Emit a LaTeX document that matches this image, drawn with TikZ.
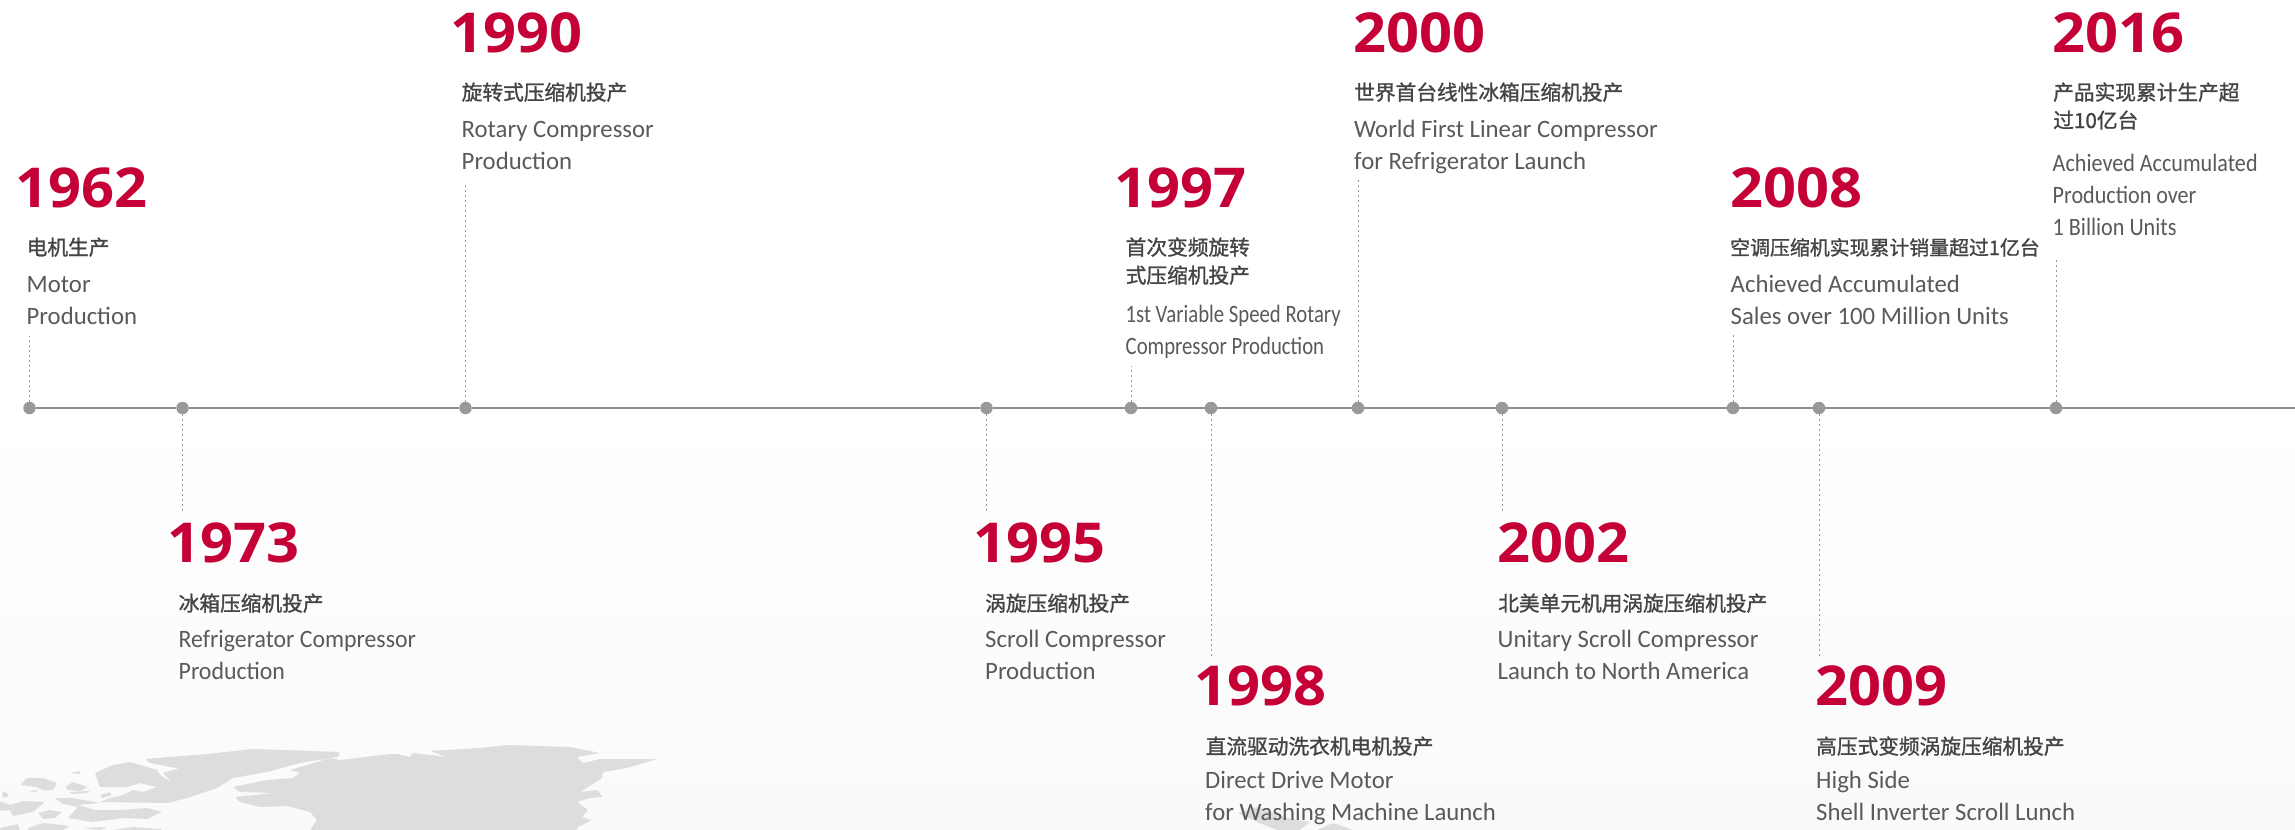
\documentclass[tikz,border=0pt]{standalone}
\usepackage{fontspec}
\setmainfont[FakeStretch=0.99]{Carlito}
\newfontfamily\yearfont[FakeStretch=1.05]{Open Sans}
\newfontfamily\cjk[FakeBold=1.2]{Noto Sans CJK SC}
\newfontfamily\condfont[FakeStretch=0.83]{Carlito}
\newfontfamily\narrowfont[FakeStretch=0.885]{Carlito}
\newfontfamily\tightfont[FakeStretch=0.953]{Carlito}
\definecolor{lgred}{HTML}{C50037}
\definecolor{axisgray}{HTML}{8E8E8E}
\definecolor{dotgray}{HTML}{999999}
\definecolor{mapgray}{HTML}{DCDDDD}
\definecolor{headgray}{HTML}{444444}
\definecolor{bodygray}{HTML}{5A5A5A}
\tikzset{
  dot/.style={circle,fill=dotgray,inner sep=0pt,minimum size=12.5pt},
  leader/.style={draw=dotgray,line width=1pt,dash pattern=on 1.5pt off 3.5pt},
  year/.style={anchor=base west,inner sep=0pt,text=lgred,font=\yearfont\bfseries\fontsize{55}{60}\selectfont},
  head/.style={anchor=base west,inner sep=0pt,align=left,text=headgray,font=\cjk\fontsize{20.7}{28}\selectfont},
  body/.style={anchor=base west,inner sep=0pt,align=left,text=bodygray,font=\fontsize{25}{32}\selectfont},
  land/.style={fill=mapgray,rounded corners=1pt}
}
\begin{document}
\begin{tikzpicture}[x=1pt,y=-1pt]
  \useasboundingbox (0,0) rectangle (2295,830);
  \fill[white] (0,0) rectangle (2295,410);
  \shade[top color=white,bottom color=black!2] (0,410) rectangle (2295,830);
  % map
  \fill[land] (330,758) -- (340,760) -- (390,754) -- (397,754) -- (410,757) -- (413,753) -- (447,757) -- (430,751) -- (480,748) -- (507,745) -- (570,747) -- (600,753) -- (577,757) -- (583,763) -- (600,759) -- (657,759) -- (627,768) -- (603,772) -- (602,778) -- (580,792) -- (597,790) -- (603,797) -- (590,798) -- (577,802) -- (588,810) -- (582,817) -- (592,820) -- (578,827) -- (577,830) -- (310,830) -- (317,820) -- (310,812) -- (287,806) -- (260,807) -- (240,802) -- (235,797) -- (273,793) -- (240,792) -- (233,787) -- (267,780) -- (293,778) -- (300,773) -- (290,770) -- cycle;
  \fill[land] (145,759) -- (207,754) -- (253,749) -- (340,752) -- (338,757) -- (300,763) -- (267,772) -- (233,778) -- (217,788) -- (187,798) -- (167,803) -- (100,802) -- (110,798) -- (123,795) -- (133,790) -- (143,792) -- (157,787) -- (140,783) -- (127,787) -- (100,787) -- (95,773) -- (113,765) -- (130,762) -- (157,770) -- (160,775) -- (173,783) -- (163,773) -- (180,768) -- (190,770) -- (170,767) -- (150,763) -- cycle;
  \fill[land] (20,785) -- (27,778) -- (43,778) -- (57,783) -- (53,790) -- (43,790) -- (37,787) -- cycle;
  \fill[land] (65,787) -- (73,782) -- (88,787) -- (80,791) -- (68,790) -- cycle;
  \fill[land] (28,791) -- (38,790) -- (35,792) -- cycle;
  \fill[land] (70,773) -- (80,771) -- (80,774) -- cycle;
  \fill[land] (2,793) -- (5,791) -- (9,796) -- (3,798) -- cycle;
  \fill[land] (69,792) -- (90,791) -- (88,793) -- (72,794) -- cycle;
  \fill[land] (100,795) -- (110,792) -- (112,795) -- (102,798) -- cycle;
  \fill[land] (0,801) -- (10,805) -- (23,801) -- (45,802) -- (33,812) -- (13,816) -- (10,810) -- (0,811) -- cycle;
  \fill[land] (38,813) -- (50,810) -- (62,812) -- (55,818) -- (43,819) -- cycle;
  \fill[land] (55,798) -- (73,798) -- (100,803) -- (78,805) -- (95,810) -- (120,810) -- (147,808) -- (162,812) -- (147,819) -- (123,818) -- (93,822) -- (68,818) -- (78,807) -- (63,804) -- cycle;
  \fill[land] (0,828) -- (18,824) -- (20,830) -- (0,830) -- cycle;
  \fill[land] (28,828) -- (43,823) -- (70,826) -- (63,830) -- (28,830) -- cycle;
  \fill[land] (83,828) -- (107,827) -- (100,830) -- cycle;
  \fill[land] (113,830) -- (133,827) -- (160,829) -- (163,830) -- cycle;
  \fill[land] (1238,813) -- (1257,807) -- (1287,818) -- (1310,822) -- (1300,830) -- (1277,830) -- (1257,822) -- cycle;
  \fill[land] (1317,830) -- (1333,823) -- (1353,830) -- cycle;
  % points on the axis
  \draw
    (29.5,408) node[dot] (d1962){}
    (182.5,408) node[dot] (d1973){}
    (465.5,408) node[dot] (d1990){}
    (986.5,408) node[dot] (d1995){}
    (1131,408) node[dot] (d1997){}
    (1211,408) node[dot] (d1998){}
    (1358,408) node[dot] (d2000){}
    (1502,408) node[dot] (d2002){}
    (1733,408) node[dot] (d2008){}
    (1819,408) node[dot] (d2009){}
    (2056,408) node[dot] (d2016){};
  \coordinate (axisend) at (2295,408);
  \coordinate (c1962) at (29.5,336);
  \coordinate (c1973) at (182.5,513);
  \coordinate (c1990) at (465.5,182);
  \coordinate (c1995) at (986.5,513);
  \coordinate (c1997) at (1131,366);
  \coordinate (c1998) at (1211,657);
  \coordinate (c2000) at (1358,178);
  \coordinate (c2002) at (1502,513);
  \coordinate (c2008) at (1733,334);
  \coordinate (c2009) at (1819,657);
  \coordinate (c2016) at (2056,257);
  \begin{scope}[draw=axisgray,line width=2pt]
    \draw (d1962) to (d1973);
    \draw (d1973) to (d1990);
    \draw (d1990) to (d1995);
    \draw (d1995) to (d1997);
    \draw (d1997) to (d1998);
    \draw (d1998) to (d2000);
    \draw (d2000) to (d2002);
    \draw (d2002) to (d2008);
    \draw (d2008) to (d2009);
    \draw (d2009) to (d2016);
    \draw (d2016) to (axisend);
  \end{scope}
  \begin{scope}[leader]
    \draw (d1962) to (c1962);
    \draw (d1973) to (c1973);
    \draw (d1990) to (c1990);
    \draw (d1995) to (c1995);
    \draw (d1997) to (c1997);
    \draw (d1998) to (c1998);
    \draw (d2000) to (c2000);
    \draw (d2002) to (c2002);
    \draw (d2008) to (c2008);
    \draw (d2009) to (c2009);
    \draw (d2016) to (c2016);
  \end{scope}
  % years
  \node[year] (y1962) at (15,207) {1962};
  \node[year] (y1973) at (167,562) {1973};
  \node[year] (y1990) at (450,52) {1990};
  \node[year] (y1995) at (973,562) {1995};
  \node[year] (y1997) at (1114,207) {1997};
  \node[year] (y1998) at (1194,705) {1998};
  \node[year] (y2000) at (1353,52) {2000};
  \node[year] (y2002) at (1497,562) {2002};
  \node[year] (y2008) at (1730,207) {2008};
  \node[year] (y2009) at (1815,705) {2009};
  \node[year] (y2016) at (2052,52) {2016};
  % chinese titles
  \node[head] (h1962) at (26.5,255) {电机生产};
  \node[head] (h1973) at (178.5,611) {冰箱压缩机投产};
  \node[head] (h1990) at (461.5,100) {旋转式压缩机投产};
  \node[head] (h1995) at (985,611) {涡旋压缩机投产};
  \node[head] (h1997) at (1125.5,283) {首次变频旋转\\式压缩机投产};
  \node[head] (h1998) at (1205.5,754) {直流驱动洗衣机电机投产};
  \node[head] (h2000) at (1354,100) {世界首台线性冰箱压缩机投产};
  \node[head] (h2002) at (1498,611) {北美单元机用涡旋压缩机投产};
  \node[head,font=\cjk\fontsize{19.9}{28}\selectfont] (h2008) at (1730,255) {空调压缩机实现累计销量超过1亿台};
  \node[head] (h2009) at (1816,754) {高压式变频涡旋压缩机投产};
  \node[head] (h2016) at (2053,128) {产品实现累计生产超\\过10亿台};
  % english lines
  \node[body] (b1962) at (26.5,324) {Motor\\Production};
  \node[body,font=\tightfont\fontsize{25}{32}\selectfont] (b1973) at (178.5,679) {Refrigerator Compressor\\Production};
  \node[body] (b1990) at (461.5,169) {Rotary Compressor\\Production};
  \node[body] (b1995) at (985,679) {Scroll Compressor\\Production};
  \node[body,font=\condfont\fontsize{25}{32}\selectfont] (b1997) at (1125.5,354) {1st Variable Speed Rotary\\Compressor Production};
  \node[body] (b1998) at (1205,820) {Direct Drive Motor\\for Washing Machine Launch};
  \node[body] (b2000) at (1354,169) {World First Linear Compressor\\for Refrigerator Launch};
  \node[body] (b2002) at (1497.5,679) {Unitary Scroll Compressor\\Launch to North America};
  \node[body] (b2008) at (1730.5,324) {Achieved Accumulated\\Sales over 100 Million Units};
  \node[body] (b2009) at (1816,820) {High Side\\Shell Inverter Scroll Lunch};
  \node[body,font=\narrowfont\fontsize{25}{32}\selectfont] (b2016) at (2052.5,235) {Achieved Accumulated\\Production over\\1 Billion Units};
\end{tikzpicture}
\end{document}
